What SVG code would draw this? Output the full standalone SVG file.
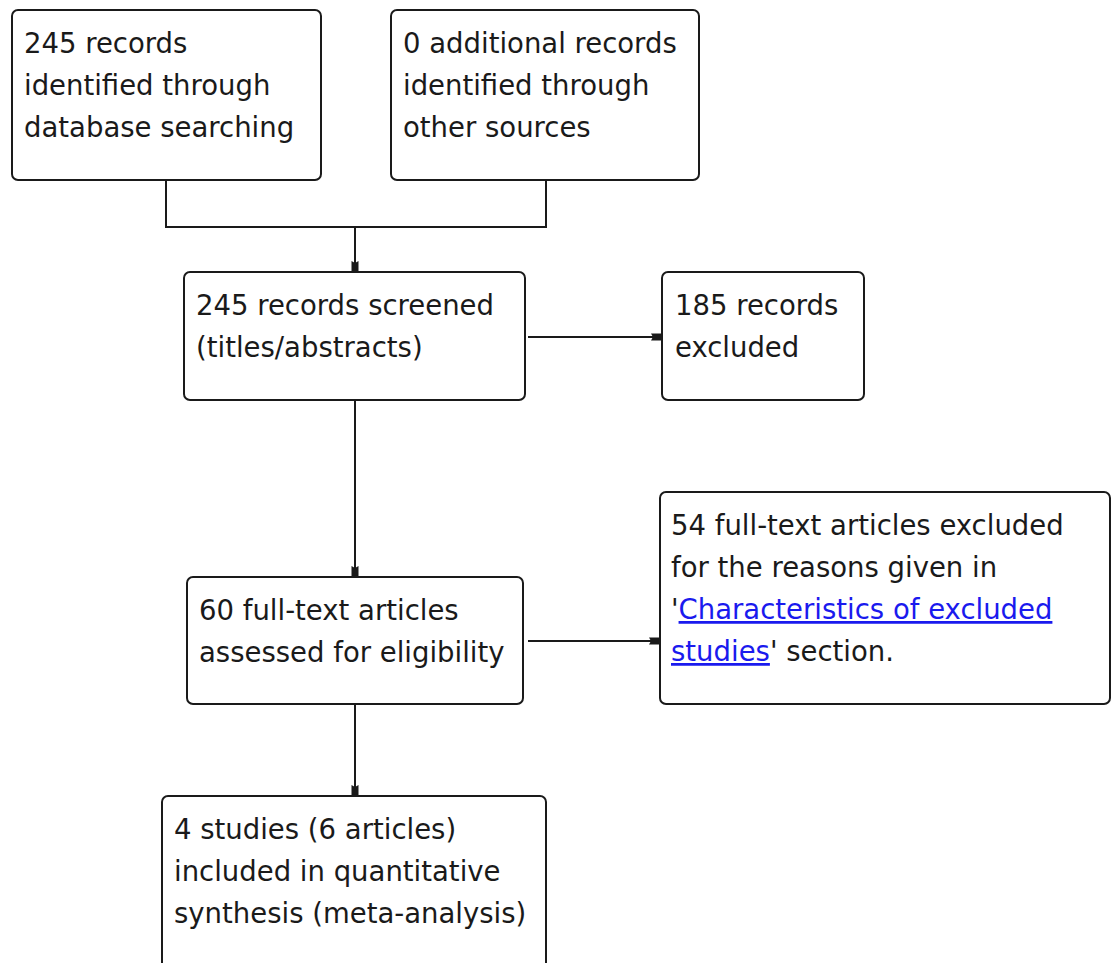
<svg xmlns="http://www.w3.org/2000/svg" width="1112" height="963" viewBox="0 0 1112 963">
<style>
.box{fill:#fff;stroke:#1a1a1a;stroke-width:2}
.t{font-family:"DejaVu Sans",sans-serif;font-size:27.5px;fill:#1a1a1a}
.ln{fill:none;stroke:#1a1a1a;stroke-width:2}
.lk{fill:#1a1aee;text-decoration:underline}
</style>
<defs>
<marker id="ah" markerWidth="11" markerHeight="10" refX="10" refY="5" orient="auto" markerUnits="userSpaceOnUse">
<path d="M0,1.5 L10,1.5 L10,8.5 L0,8.5 L2,5 Z" fill="#1a1a1a"/>
</marker>
</defs>
<rect width="1112" height="963" fill="#fff"/>
<g id="connectors">
<path class="ln" d="M166,180 V227 H546 V180"/>
<path class="ln" d="M355,227 V271" marker-end="url(#ah)"/>
<path class="ln" d="M528,337 H661" marker-end="url(#ah)"/>
<path class="ln" d="M355,400 V576" marker-end="url(#ah)"/>
<path class="ln" d="M528,641 H659" marker-end="url(#ah)"/>
<path class="ln" d="M355,704 V795" marker-end="url(#ah)"/>
</g>
<g id="n1">
<rect class="box" x="12" y="10" width="309" height="170" rx="6"/>
<text class="t" x="24" y="53">245 records</text>
<text class="t" x="24" y="95">identified through</text>
<text class="t" x="24" y="137">database searching</text>
</g>
<g id="n2">
<rect class="box" x="391" y="10" width="308" height="170" rx="6"/>
<text class="t" x="403" y="53">0 additional records</text>
<text class="t" x="403" y="95">identified through</text>
<text class="t" x="403" y="137">other sources</text>
</g>
<g id="n3">
<rect class="box" x="184" y="272" width="341" height="128" rx="6"/>
<text class="t" x="196" y="315">245 records screened</text>
<text class="t" x="196" y="357">(titles/abstracts)</text>
</g>
<g id="n4">
<rect class="box" x="662" y="272" width="202" height="128" rx="6"/>
<text class="t" x="675" y="315">185 records</text>
<text class="t" x="675" y="357">excluded</text>
</g>
<g id="n5">
<rect class="box" x="187" y="577" width="336" height="127" rx="6"/>
<text class="t" x="199" y="620">60 full-text articles</text>
<text class="t" x="199" y="662">assessed for eligibility</text>
</g>
<g id="n6">
<rect class="box" x="660" y="492" width="450" height="212" rx="6"/>
<text class="t" x="671" y="535">54 full-text articles excluded</text>
<text class="t" x="671" y="577">for the reasons given in</text>
<text class="t" x="671" y="619">'<tspan class="lk">Characteristics of excluded</tspan></text>
<text class="t" x="671" y="661"><tspan class="lk">studies</tspan>' section.</text>
</g>
<g id="n7">
<rect class="box" x="162" y="796" width="384" height="185" rx="6"/>
<text class="t" x="174" y="839">4 studies (6 articles)</text>
<text class="t" x="174" y="881">included in quantitative</text>
<text class="t" x="174" y="923">synthesis (meta-analysis)</text>
</g>
</svg>
